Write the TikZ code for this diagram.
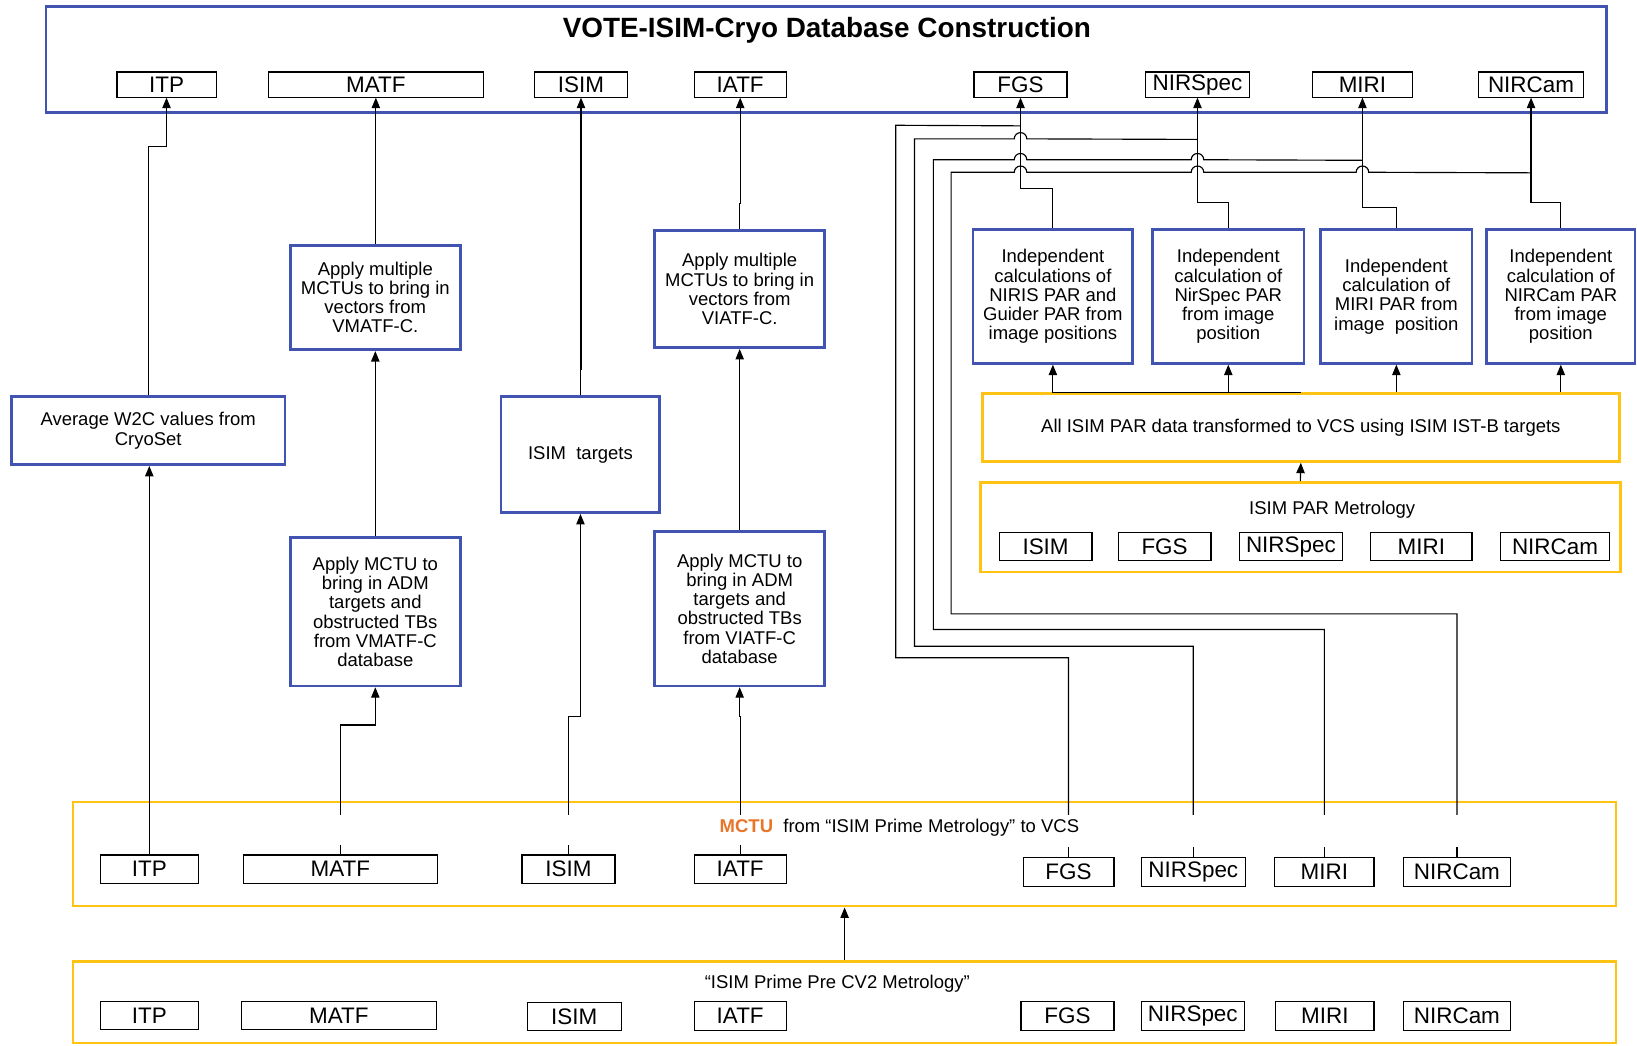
\documentclass[tikz,border=0pt]{standalone}
\usepackage{fontspec}
\setmainfont{Liberation Sans}
\usetikzlibrary{arrows.meta}
\definecolor{boxblue}{RGB}{66,84,178}
\definecolor{gold}{RGB}{255,195,20}
\definecolor{mctuorange}{RGB}{232,117,40}
\newcommand\bodyfont{\fontsize{17.7}{18.4}\selectfont}
\newcommand\tagfont{\fontsize{21.5}{23}\selectfont}
\newcommand\headfont{\fontsize{26.7}{30}\selectfont\bfseries}
% a node of the given style whose border spans two corners
\newcommand\boxat[7]{%
  \pgfmathsetmacro\bxcx{(#3+#5)/2}\pgfmathsetmacro\bxcy{(#4+#6)/2}%
  \pgfmathsetmacro\bxw{#5-#3}\pgfmathsetmacro\bxh{#6-#4}%
  \node[#1, minimum width=\bxw pt, minimum height=\bxh pt] (#2) at (\bxcx,\bxcy) {#7};}
\newcommand\tagbox[6]{\boxat{tag}{#1}{#2}{#3}{#4}{#5}{#6}}

\begin{document}
\begin{tikzpicture}[x=1pt,y=-1pt,
  blu/.style={draw=boxblue,line width=2.6pt,inner sep=0pt,align=center,font=\bodyfont},
  ylw/.style={draw=gold,line width=2.4pt,inner sep=0pt,align=center,font=\bodyfont},
  tag/.style={draw=black,line width=1.1pt,inner sep=0pt,font=\tagfont},
  txt/.style={inner sep=0pt,font=\bodyfont},
  conn/.style={line width=1.1pt,draw=black},
  arr/.style={conn,-{Triangle[length=10pt,width=8pt]}},
]
\fill[white] (0,0) rectangle (1568,1001);
\useasboundingbox (0,0) rectangle (1568,1001);

% ---------- database box ----------
\boxat{blu}{top}{44}{6}{1539}{108}{}
\node[inner sep=0pt, font=\headfont] (title) at (792,29) {VOTE-ISIM-Cryo Database Construction};
\tagbox{tITP}{112}{69}{207}{93}{ITP}
\tagbox{tMATF}{257}{69}{463}{93}{MATF}
\tagbox{tISIM}{512}{69}{601}{93}{ISIM}
\tagbox{tIATF}{665}{69}{753}{93}{IATF}
\tagbox{tFGS}{933}{69}{1022}{93}{FGS}
\tagbox{tNIRS}{1097}{69}{1197}{93}{NIRSpec}
\tagbox{tMIRI}{1257}{69}{1353}{93}{MIRI}
\tagbox{tNIRC}{1416}{69}{1517}{93}{NIRCam}

% ---------- processing steps ----------
\boxat{blu}{w2c}{11}{380}{273}{445}{Average W2C values from\\CryoSet}
\boxat{blu}{mv1}{278}{235}{441}{335}{Apply multiple\\MCTUs to bring in\\vectors from\\VMATF-C.}
\boxat{blu}{ma1}{278}{515}{441}{657}{Apply MCTU to\\bring in ADM\\targets and\\obstructed TBs\\from VMATF-C\\database}
\boxat{blu}{it}{480}{380}{632}{491}{ISIM\ \ targets}
\boxat{blu}{iv1}{627}{221}{790}{333}{Apply multiple\\MCTUs to bring in\\vectors from\\VIATF-C.}
\boxat{blu}{ia1}{627}{509}{790}{657}{Apply MCTU to\\bring in ADM\\targets and\\obstructed TBs\\from VIATF-C\\database}

\boxat{blu}{b1}{932}{220}{1085}{348}{Independent\\calculations of\\NIRIS PAR and\\Guider PAR from\\image positions}
\boxat{blu}{b2}{1104}{220}{1249}{348}{Independent\\calculation of\\NirSpec PAR\\from image\\position}
\boxat{blu}{b3}{1265}{220}{1410}{348}{Independent\\calculation of\\MIRI PAR from\\image\ \ position}
\boxat{blu}{b4}{1424}{220}{1566}{348}{Independent\\calculation of\\NIRCam PAR\\from image\\position}

% ---------- PAR data ----------
\boxat{ylw}{ap}{941}{377}{1551}{442}{All ISIM PAR data transformed to VCS using ISIM IST-B targets}
\boxat{ylw}{apm}{939}{462}{1552}{548}{}
\node[txt] (apmt) at (1276,488) {ISIM PAR Metrology};
\tagbox{pISIM}{957}{510}{1046}{537}{ISIM}
\tagbox{pFGS}{1071}{510}{1160}{537}{FGS}
\tagbox{pNIRS}{1187}{510}{1286}{537}{NIRSpec}
\tagbox{pMIRI}{1313}{510}{1410}{537}{MIRI}
\tagbox{pNIRC}{1437}{510}{1542}{537}{NIRCam}

% ---------- MCTU to VCS ----------
\boxat{ylw}{mb}{70}{768}{1548}{868}{}
\node[txt] (mbt) at (861.5,793) {{\color{mctuorange}\bfseries MCTU}\ \ from “ISIM Prime Metrology” to VCS};
\tagbox{mITP}{96}{819}{190}{846}{ITP}
\tagbox{mMATF}{233}{819}{419}{846}{MATF}
\tagbox{mISIM}{500}{819}{589}{846}{ISIM}
\tagbox{mIATF}{665}{819}{753}{846}{IATF}
\tagbox{mFGS}{980}{821}{1067}{849}{FGS}
\tagbox{mNIRS}{1093}{821}{1193}{849}{NIRSpec}
\tagbox{mMIRI}{1221}{821}{1316}{849}{MIRI}
\tagbox{mNIRC}{1344}{821}{1447}{849}{NIRCam}

% ---------- pre CV2 metrology ----------
\boxat{ylw}{pb}{70}{921}{1548}{999}{}
\node[txt] (pbt) at (802,942) {“ISIM Prime Pre CV2 Metrology”};
\tagbox{bITP}{96}{959}{190}{986}{ITP}
\tagbox{bMATF}{231}{959}{418}{986}{MATF}
\tagbox{bISIM}{505}{960}{595}{987}{ISIM}
\tagbox{bIATF}{665}{959}{753}{987}{IATF}
\tagbox{bFGS}{978}{959}{1067}{987}{FGS}
\tagbox{bNIRS}{1093}{959}{1192}{987}{NIRSpec}
\tagbox{bMIRI}{1222}{959}{1316}{987}{MIRI}
\tagbox{bNIRC}{1344}{959}{1447}{987}{NIRCam}

% ---------- connectors ----------
\draw[arr] (pb.north) -- (mb.south);

% ITP chain
\draw[arr] (mITP.north) -- (mITP.north |- w2c.south);
\draw[arr] (w2c.north) -- ++(0,-238) -| (tITP.south);

% MATF chain
\draw[conn] (mMATF.north) -- ++(0,-9);
\path (mMATF.north) ++(0,-38) coordinate (sMATF);
\draw[arr] (sMATF) -- ++(0,-86) -| (ma1.south);
\draw[arr] (ma1.north) -- (mv1.south);
\draw[arr] (mv1.north) -- ++(0,-28) -| (tMATF.south);

% ISIM chain
\draw[conn] (mISIM.north) -- ++(0,-9);
\path (mISIM.north) ++(0,-38) coordinate (sISIM);
\draw[arr] (sISIM) -- ++(0,-94) -| (it.south);
\draw[arr] (it.north) -- ++(0,-25) -| (tISIM.south);

% IATF chain
\draw[conn] (mIATF.north) -- ++(0,-9);
\path (mIATF.north) ++(0,-38) coordinate (sIATF);
\draw[arr] (sIATF) -- ++(0,-94) -| (ia1.south);
\draw[arr] (ia1.north) -- (iv1.south);
\draw[arr] (iv1.north) -- ++(0,-25) -| (tIATF.south);

% PAR chain
\draw[arr] (apm.north) -- (ap.south);
\draw[arr] (ap.north) -| (b1.south);
\draw[arr] (ap.north -| b2.south) -- (b2.south);
\draw[arr] (ap.north -| b3.south) -- (b3.south);
\draw[arr] (ap.north -| b4.south) -- (b4.south);
\draw[arr] (b1.north) -- ++(0,-38) -| (tFGS.south);
\draw[arr] (b2.north) -- ++(0,-25) -| (tNIRS.south);
\draw[arr] (b3.north) -- ++(0,-20) -| (tMIRI.south);
\draw[arr] (b4.north) -- ++(0,-25) -| (tNIRC.south);

% instrument feeds from MCTU row up to the database
\foreach \n in {mFGS,mNIRS,mMIRI,mNIRC}{
  \draw[conn] (\n.north) -- ++(0,-9);
  \path (\n.north) ++(0,-40) coordinate (s\n);
}
\path (tFGS.south) ++(0,27) coordinate (jF);
\path (tNIRS.south) ++(0,40) coordinate (jN);
\path (tMIRI.south) ++(0,60) coordinate (jM);
\path (tNIRC.south) ++(0,72) coordinate (jC);

\draw[conn] (smFGS) |- (858,630) -- (858,120) -- (jF);
\draw[conn] (smNIRS) |- (876,619) -- (876,133) -- (971.5,133)
  arc[start angle=180,end angle=0,radius=6pt] -- (jN);
\draw[conn] (smMIRI) |- (894,603) -- (894,153) -- (971.5,153)
  arc[start angle=180,end angle=0,radius=6pt] -- (1141,153)
  arc[start angle=180,end angle=0,radius=6pt] -- (jM);
\draw[conn] (smNIRC) |- (911,588) -- (911,165) -- (971.5,165)
  arc[start angle=180,end angle=0,radius=6pt] -- (1141,165)
  arc[start angle=180,end angle=0,radius=6pt] -- (1299,165)
  arc[start angle=180,end angle=0,radius=6pt] -- (jC);
\end{tikzpicture}
\end{document}
